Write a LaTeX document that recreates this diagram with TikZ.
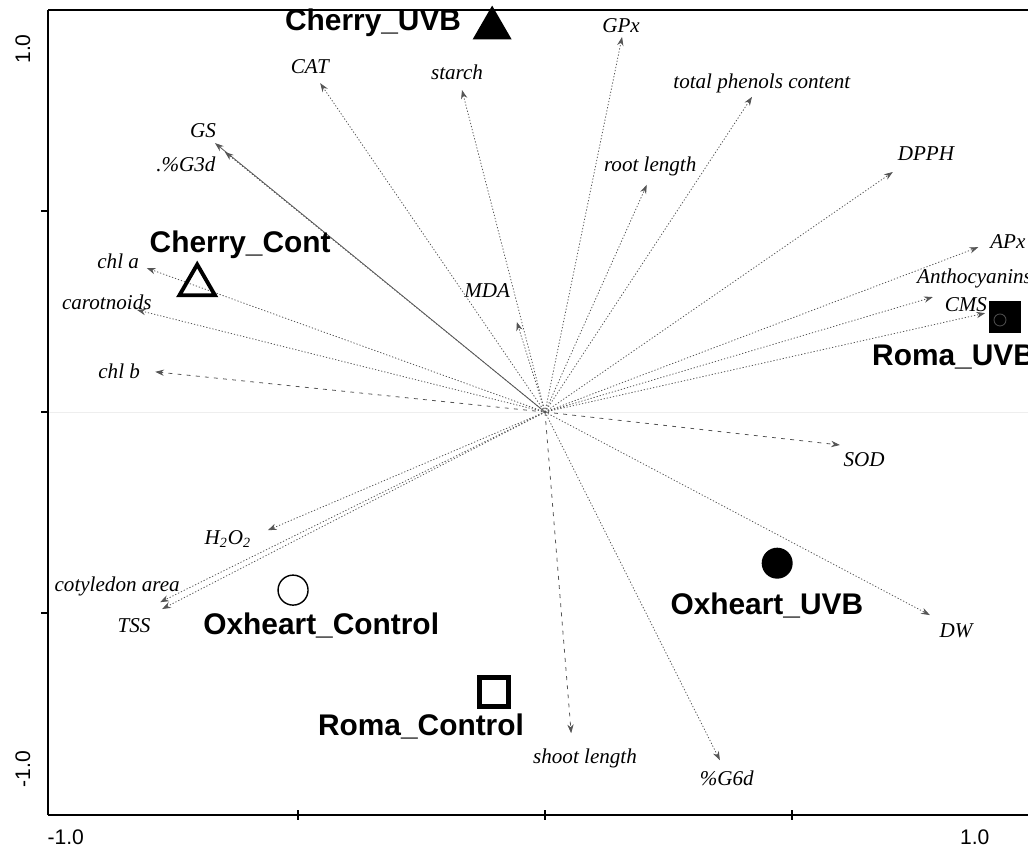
\documentclass[tikz,border=0pt]{standalone}
\usepackage{fontspec}
\setmainfont{Liberation Serif}
\setsansfont{Liberation Sans}
\usetikzlibrary{shapes.geometric, arrows.meta}
\definecolor{vecgray}{RGB}{85,85,85}
\definecolor{zerogray}{RGB}{238,238,238}
\tikzset{
  vec/.style={-{Stealth[length=5pt,width=3.6pt]}, line width=0.45pt, color=vecgray,
    dash pattern=on 0.7pt off 1.1pt},
  dvec/.style={vec, dash pattern=on 2.2pt off 3pt},
  svec/.style={vec, solid},
  var/.style={font=\itshape\fontsize{12}{12}\selectfont, inner sep=1pt},
  grp/.style={font=\sffamily\bfseries\fontsize{17}{17}\selectfont, inner sep=1pt},
  ticklab/.style={font=\sffamily\fontsize{12}{12}\selectfont, inner sep=0pt},
  axisline/.style={line width=1.3pt},
  trifill/.style={regular polygon, regular polygon sides=3, fill=black,
    minimum size=0.9cm, inner sep=0pt},
  triopen/.style={regular polygon, regular polygon sides=3, draw=black,
    line width=2.2pt, minimum size=0.82cm, inner sep=0pt},
  sqfill/.style={rectangle, fill=black, minimum size=0.64cm, inner sep=0pt},
  sqopen/.style={rectangle, draw=black, line width=2.8pt, minimum size=0.58cm, inner sep=0pt},
  cfill/.style={circle, fill=black, minimum size=0.62cm, inner sep=0pt},
  copen/.style={circle, draw=black, line width=0.8pt, minimum size=0.6cm, inner sep=0pt}
}

\begin{document}
\begin{tikzpicture}[x=9.88cm, y=8.04cm]
  \clip (-1.1032,-1.0796) rectangle (0.9777,1.0249);

  % Frame and axes
  \draw[zerogray, line width=0.6pt] (-1.006,0) -- (1,0);
  \draw[line width=1.6pt] (-1.006,1.0) -- (-1.006,-1.002);
  \draw[axisline] (-1.006,1.0) -- (1,1.0);
  \draw[axisline] (-1.006,-1.002) -- (1,-1.002);
  \draw[line width=1pt] (-1.02,0.5) -- (-1.006,0.5);
  \draw[line width=1pt] (-1.02,0) -- (-1.006,0);
  \draw[line width=1pt] (-1.02,-0.5) -- (-1.006,-0.5);
  \draw[line width=1pt] (-0.5,-0.99) -- (-0.5,-1.016);
  \draw[line width=1pt] (0,-0.99) -- (0,-1.016);
  \draw[line width=1pt] (0.5,-0.99) -- (0.5,-1.016);
  \node[ticklab, rotate=90] (ytop) at (-1.057,0.903) {1.0};
  \node[ticklab, rotate=90] (ybot) at (-1.057,-0.888) {-1.0};
  \node[ticklab] (xleft) at (-0.970,-1.057) {-1.0};
  \node[ticklab] (xright) at (0.870,-1.057) {1.0};

  % Origin of the vectors
  \coordinate (o) at (0,0);

  % Variables, upper left
  \coordinate (cat) at (-0.455,0.818);
  \node[var] (catl) at (-0.476,0.858) {CAT};
  \coordinate (gs) at (-0.668,0.669);
  \node[var] (gsl) at (-0.692,0.701) {GS};
  \coordinate (gtd) at (-0.648,0.647);
  \node[var] (gtdl) at (-0.727,0.617) {.\%G3d};
  \coordinate (chla) at (-0.806,0.358);
  \node[var] (chlal) at (-0.864,0.376) {chl a};
  \coordinate (caro) at (-0.826,0.254);
  \node[var] (carol) at (-0.887,0.274) {carotnoids};
  \coordinate (chlb) at (-0.789,0.100);
  \node[var] (chlbl) at (-0.862,0.102) {chl b};
  \coordinate (starch) at (-0.168,0.801);
  \node[var] (starchl) at (-0.178,0.846) {starch};
  \coordinate (mda) at (-0.057,0.224);
  \node[var] (mdal) at (-0.117,0.301) {MDA};

  % Variables, lower left
  \coordinate (hoo) at (-0.561,-0.294);
  \node[var] (hool) at (-0.642,-0.316) {H\textsubscript{2}O\textsubscript{2}};
  \coordinate (coty) at (-0.779,-0.473);
  \node[var] (cotyl) at (-0.866,-0.433) {cotyledon area};
  \coordinate (tss) at (-0.775,-0.490);
  \node[var] (tssl) at (-0.832,-0.532) {TSS};

  % Variables, upper right
  \coordinate (gpx) at (0.156,0.933);
  \node[var] (gpxl) at (0.154,0.960) {GPx};
  \coordinate (root) at (0.206,0.565);
  \node[var] (rootl) at (0.213,0.612) {root length};
  \coordinate (tpc) at (0.419,0.784);
  \node[var] (tpcl) at (0.439,0.818) {total phenols content};
  \coordinate (dpph) at (0.704,0.597);
  \node[var] (dpphl) at (0.771,0.644) {DPPH};
  \coordinate (apx) at (0.877,0.410);
  \node[var] (apxl) at (0.937,0.425) {APx};
  \coordinate (antho) at (0.785,0.286);
  \node[var, anchor=west] (anthol) at (0.749,0.333) {Anthocyanins};
  \coordinate (cms) at (0.891,0.246);
  \node[var] (cmsl) at (0.852,0.266) {CMS};

  % Variables, lower right
  \coordinate (sod) at (0.597,-0.082);
  \node[var] (sodl) at (0.646,-0.119) {SOD};
  \coordinate (dw) at (0.779,-0.505);
  \node[var] (dwl) at (0.832,-0.545) {DW};
  \coordinate (gsd) at (0.354,-0.866);
  \node[var] (gsdl) at (0.368,-0.910) {\%G6d};
  \coordinate (shoot) at (0.053,-0.799);
  \node[var] (shootl) at (0.081,-0.861) {shoot length};

  % Vectors
  \draw[vec] (o) -- (cat);
  \draw[svec] (o) -- (gs);
  \draw[vec] (o) -- (gtd);
  \draw[vec] (o) -- (chla);
  \draw[vec] (o) -- (caro);
  \draw[dvec] (o) -- (chlb);
  \draw[vec] (o) -- (starch);
  \draw[vec] (o) -- (mda);
  \draw[vec] (o) -- (hoo);
  \draw[vec] (o) -- (coty);
  \draw[vec] (o) -- (tss);
  \draw[vec] (o) -- (gpx);
  \draw[vec] (o) -- (root);
  \draw[vec] (o) -- (tpc);
  \draw[vec] (o) -- (dpph);
  \draw[vec] (o) -- (apx);
  \draw[vec] (o) -- (antho);
  \draw[vec] (o) -- (cms);
  \draw[dvec] (o) -- (sod);
  \draw[vec] (o) -- (dw);
  \draw[vec] (o) -- (gsd);
  \draw[dvec] (o) -- (shoot);

  % Samples
  \node[trifill] (cuvb) at (-0.107,0.955) {};
  \node[grp] (cuvbl) at (-0.348,0.968) {Cherry\_UVB};
  \node[triopen] (ccont) at (-0.704,0.316) {};
  \node[grp] (ccontl) at (-0.617,0.415) {Cherry\_Cont};
  \node[copen] (ocont) at (-0.510,-0.443) {};
  \node[grp] (ocontl) at (-0.453,-0.532) {Oxheart\_Control};
  \node[cfill] (ouvb) at (0.470,-0.376) {};
  \node[grp] (ouvbl) at (0.449,-0.480) {Oxheart\_UVB};
  \node[sqopen] (rcont) at (-0.103,-0.697) {};
  \node[grp] (rcontl) at (-0.251,-0.781) {Roma\_Control};
  \node[sqfill] (ruvb) at (0.931,0.236) {};
  \draw[gray!60!black, line width=0.5pt] (0.921,0.229) circle (0.12cm);
  \node[grp, anchor=west] (ruvbl) at (0.658,0.137) {Roma\_UVB};
\end{tikzpicture}
\end{document}
